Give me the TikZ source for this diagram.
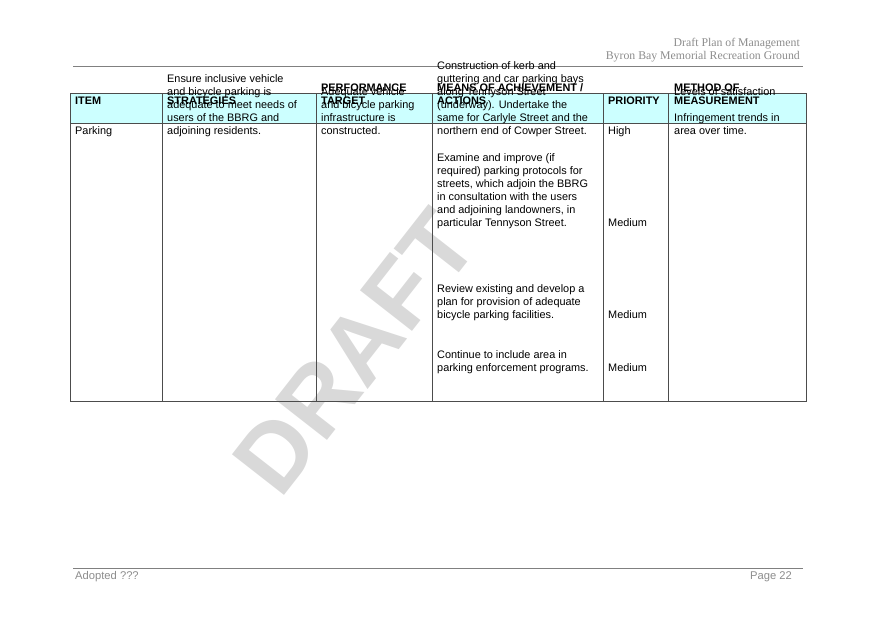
\documentclass[tikz,border=0pt]{standalone}
\usepackage{fontspec}
\setmainfont{Liberation Sans}
\newfontfamily\headfont{Liberation Serif}
\usetikzlibrary{positioning}
\definecolor{headcyan}{HTML}{CCFFFF}
\definecolor{rulegray}{HTML}{808080}
\tikzset{
	cell/.style={
		anchor=base west,
		align=left,
		inner sep=0pt,
		font=\fontsize{10.9}{13}\selectfont
	},
	head/.style={
		cell,
		font=\fontsize{10.9}{13}\selectfont\bfseries
	},
	pagetext/.style={
		text=black!45,
		inner sep=0pt,
		font=\headfont\fontsize{11.8}{13}\selectfont
	}
}

\begin{document}
\begin{tikzpicture}[x=1pt,y=-1pt]
	\useasboundingbox (0,0) rectangle (875,619);

	% watermark
	\node[rotate=52, text=black!15, font=\fontsize{96}{96}\selectfont\bfseries] (Draft) at (355,352) {DRAFT};

	% page head and foot
	\node[pagetext, anchor=east] (TitleA) at (800,44) {Draft Plan of Management};
	\node[pagetext, anchor=east] (TitleB) at (800,57) {Byron Bay Memorial Recreation Ground};
	\draw[rulegray] (73,66) -- (803,66);
	\draw[rulegray] (73,568) -- (803,568);
	\node[pagetext, font=\fontsize{11.2}{13}\selectfont, anchor=west] (Adopted) at (75,577) {Adopted ???};
	\node[pagetext, font=\fontsize{11.2}{13}\selectfont, anchor=east] (Page) at (792,577) {Page 22};

	% table
	\fill[headcyan] (70,93) rectangle (806,123);
	\draw[black!70] (70,93) rectangle (806,401);
	\draw[black!70] (70,123) -- (806,123);
	\foreach \x in {162,316,432,603,668}
		\draw[black!70] (\x,93) -- (\x,401);

	\node[head] (hItem) at (75,104) {ITEM};
	\node[head] (hStrat) at (167,104) {STRATEGIES};
	\node[head] (hPerf) at (321,104) {PERFORMANCE\\TARGET};
	\node[head] (hMeans) at (437,104) {MEANS OF ACHIEVEMENT /\\ACTIONS};
	\node[head] (hPrio) at (608,104) {PRIORITY};
	\node[head] (hMeas) at (674,104) {METHOD OF\\MEASUREMENT};

	\node[cell] (Item) at (75,134) {Parking};
	\node[cell] (Strat) at (167,134) {Ensure inclusive vehicle\\and bicycle parking is\\adequate to meet needs of\\users of the BBRG and\\adjoining residents.};
	\node[cell] (Perf) at (321,134) {Adequate vehicle\\and bicycle parking\\infrastructure is\\constructed.};
	\node[cell] (MeansA) at (437,134) {Construction of kerb and\\guttering and car parking bays\\along Tennyson Street\\(underway). Undertake the\\same for Carlyle Street and the\\northern end of Cowper Street.};
	\node[cell] (MeansB) at (437,226) {Examine and improve (if\\required) parking protocols for\\streets, which adjoin the BBRG\\in consultation with the users\\and adjoining landowners, in\\particular Tennyson Street.};
	\node[cell] (MeansC) at (437,318) {Review existing and develop a\\plan for provision of adequate\\bicycle parking facilities.};
	\node[cell] (MeansD) at (437,371) {Continue to include area in\\parking enforcement programs.};
	\node[cell] (PrioA) at (608,134) {High};
	\node[cell] (PrioB) at (608,226) {Medium};
	\node[cell] (PrioC) at (608,318) {Medium};
	\node[cell] (PrioD) at (608,371) {Medium};
	\node[cell] (Meas) at (674,134) {Levels of satisfaction\\[13pt]Infringement trends in\\area over time.};
\end{tikzpicture}
\end{document}
